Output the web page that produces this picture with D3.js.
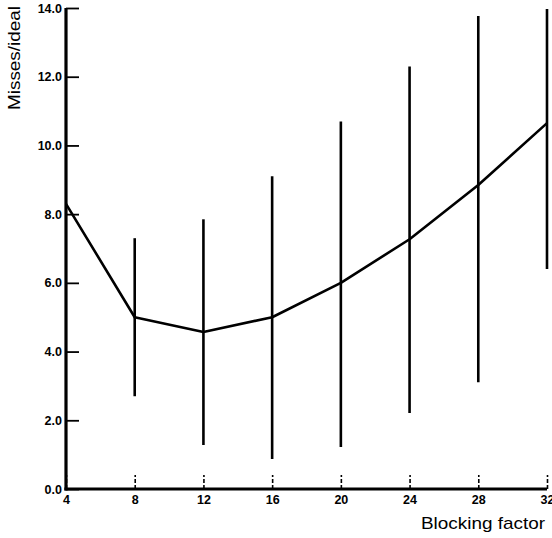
<!DOCTYPE html>
<html><head><meta charset="utf-8">
<script src="https://cdn.jsdelivr.net/npm/d3@7"></script>
<style>body{margin:0;background:#fff}svg{display:block}</style>
</head><body><svg id="c" width="552" height="538"></svg>
<script>
const blocking = [4, 8, 12, 16, 20, 24, 28, 32];
const meanMisses = [8.3, 5.0, 4.57, 5.0, 6.0, 7.27, 8.85, 10.65];
const barHigh = [null, 7.3, 7.85, 9.1, 10.7, 12.3, 13.77, 13.97];
const barLow  = [null, 2.7, 1.28, 0.87, 1.22, 2.21, 3.11, 6.4];
const yTicks = [0, 2, 4, 6, 8, 10, 12, 14];
const xTicks = [4, 8, 12, 16, 20, 24, 28, 32];

const svg = d3.select("#c");
const x = d3.scaleLinear().domain([4, 32]).range([66, 547]);
const y = d3.scaleLinear().domain([0, 14]).range([489, 8]);
const font = "Liberation Sans, Arial, sans-serif";

// error bars
svg.append("g").selectAll("line").data(blocking.map((b,i)=>({b,hi:barHigh[i],lo:barLow[i]})).filter(d=>d.hi!=null))
  .join("line")
  .attr("x1",d=>x(d.b)).attr("x2",d=>x(d.b))
  .attr("y1",d=>y(d.hi)).attr("y2",d=>y(d.lo))
  .attr("stroke","#000").attr("stroke-width",2.6);

// mean line
svg.append("path")
  .datum(blocking.map((b,i)=>[b,meanMisses[i]]))
  .attr("d", d3.line().x(d=>x(d[0])).y(d=>y(d[1])))
  .attr("fill","none").attr("stroke","#000").attr("stroke-width",2.6).attr("stroke-linejoin","round");

// y axis
const yAxis = d3.axisRight(y).tickValues(yTicks).tickSize(13).tickFormat(d=>d3.format(".1f")(d));
const gy = svg.append("g").attr("transform","translate(66,0)").call(yAxis);
gy.select(".domain").remove();
gy.selectAll(".tick line").attr("stroke-width",1.8);
gy.selectAll(".tick text").attr("x",-4).attr("text-anchor","end")
  .style("font-family",font).style("font-size","12.5px").style("font-weight","bold").attr("fill","#000");
svg.append("line").attr("x1",66).attr("x2",66).attr("y1",y(14)).attr("y2",y(0)+1.5).attr("stroke","#000").attr("stroke-width",3.2);

// x axis
const xAxis = d3.axisTop(x).tickValues(xTicks).tickSize(14).tickFormat(d3.format("d"));
const gx = svg.append("g").attr("transform",`translate(0,${y(0)})`).call(xAxis);
gx.select(".domain").remove();
gx.selectAll(".tick line").attr("stroke-width",1.6).attr("stroke-dasharray","4,2");
gx.selectAll(".tick text").attr("y",6).attr("dy","0.71em").attr("text-anchor","middle")
  .style("font-family",font).style("font-size","12.5px").style("font-weight","bold").attr("fill","#000");
svg.append("line").attr("x1",64.4).attr("x2",x(32)).attr("y1",y(0)).attr("y2",y(0)).attr("stroke","#000").attr("stroke-width",3.2);

// axis titles
svg.append("text").attr("x",545).attr("y",529).attr("text-anchor","end")
  .attr("textLength",124).attr("lengthAdjust","spacingAndGlyphs")
  .style("font-family",font).style("font-size","17px").text("Blocking factor");
svg.append("text").attr("transform","translate(20,6) rotate(-90)").attr("text-anchor","end")
  .attr("textLength",104).attr("lengthAdjust","spacingAndGlyphs")
  .style("font-family",font).style("font-size","17px").text("Misses/ideal");
</script></body></html>
